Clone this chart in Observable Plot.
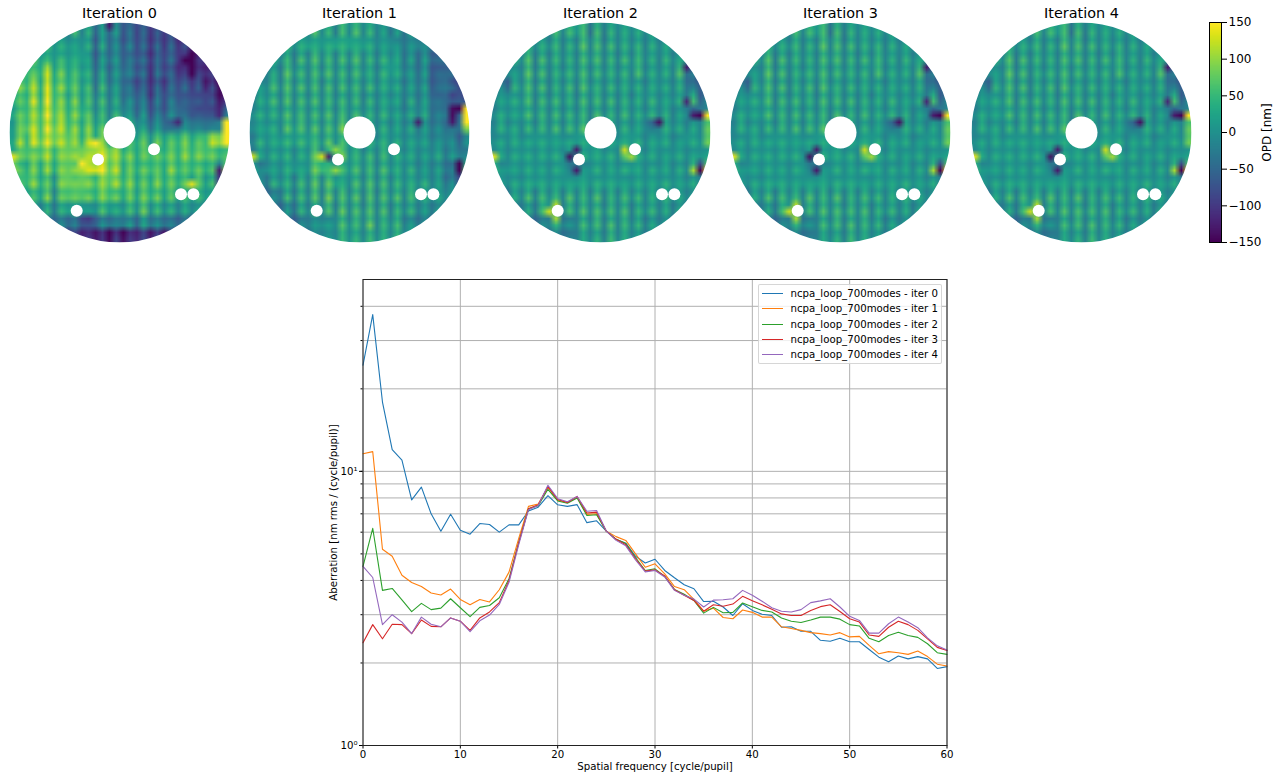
<!DOCTYPE html>
<html><head><meta charset="utf-8">
<style>
html,body{margin:0;padding:0;background:#fff;}
#page{position:relative;width:1288px;height:775px;overflow:hidden;font-family:"DejaVu Sans",sans-serif;}
#page>svg{position:absolute;}
#legend{position:absolute;left:757.5px;top:283.5px;width:184px;height:80px;box-sizing:border-box;background:rgba(255,255,255,.8);border:1px solid rgba(204,204,204,.8);border-radius:2px;font-size:10.2px;color:#000;}
#legend div{position:absolute;left:32px;white-space:nowrap;line-height:12px;}
#legend i{position:absolute;left:-29px;top:5px;width:21.6px;height:1px;display:block;}
</style>
<script src="https://cdn.jsdelivr.net/npm/d3@7"></script>
<script src="https://cdn.jsdelivr.net/npm/@observablehq/plot@0.6"></script>
</head><body><div id="page"></div>
<script>
const iterations = [0,1,2,3,4];
const diskCentres = [118.8,359.3,599.8,840.3,1080.8];
const seriesColors = ["#1f77b4","#ff7f0e","#2ca02c","#d62728","#9467bd"];

// Spectra: Aberration [nm rms / (cycle/pupil)] for spatial frequency 0..60
const iter0 = [24.4,37.3,17.9,12.0,11.0,7.87,8.76,7.0,6.05,6.97,6.1,5.9,6.45,6.4,6.0,6.38,6.38,7.17,7.4,8.15,7.55,7.45,7.56,6.5,6.6,6.05,5.65,5.47,4.9,4.63,4.78,4.35,4.09,3.86,3.73,3.35,3.36,3.2,2.98,3.29,3.11,3.01,2.98,2.7,2.71,2.61,2.61,2.42,2.4,2.46,2.39,2.39,2.24,2.1,2.02,2.12,2.07,2.11,2.07,1.91,1.94];
const iter1 = [11.6,11.8,5.2,4.9,4.18,3.93,3.8,3.6,3.54,3.72,3.41,3.26,3.41,3.34,3.7,4.29,5.7,7.45,7.6,8.75,7.85,7.7,8.05,6.97,7.0,6.05,5.78,5.6,5.0,4.47,4.6,4.23,3.8,3.7,3.41,3.09,3.17,2.93,2.9,3.12,3.06,2.94,2.94,2.71,2.67,2.63,2.58,2.56,2.53,2.58,2.49,2.5,2.32,2.16,2.2,2.18,2.15,2.21,2.11,1.98,1.95];
const iter2 = [4.5,6.2,3.68,3.74,3.4,3.08,3.3,3.13,3.17,3.43,3.18,2.95,3.19,3.24,3.46,4.06,5.5,7.3,7.5,8.6,7.8,7.65,8.0,6.9,6.95,6.05,5.65,5.45,4.85,4.35,4.41,4.14,3.71,3.56,3.38,3.04,3.19,3.05,3.06,3.31,3.21,3.11,3.07,2.92,2.84,2.81,2.87,2.94,2.94,2.89,2.76,2.73,2.46,2.39,2.52,2.59,2.52,2.48,2.35,2.18,2.15];
const iter3 = [2.37,2.76,2.45,2.77,2.76,2.56,2.87,2.72,2.71,2.92,2.84,2.63,2.92,3.07,3.32,4.0,5.5,7.3,7.55,8.8,7.9,7.7,8.1,7.05,7.1,6.05,5.65,5.4,4.8,4.33,4.37,4.15,3.7,3.53,3.38,3.09,3.26,3.22,3.28,3.5,3.37,3.26,3.14,3.02,2.98,2.98,3.11,3.21,3.26,3.08,2.9,2.82,2.53,2.5,2.7,2.84,2.76,2.63,2.45,2.28,2.22];
const iter4 = [4.5,4.1,2.76,3.0,2.82,2.56,2.94,2.77,2.71,2.92,2.84,2.6,2.85,2.99,3.27,3.94,5.4,7.25,7.5,8.9,7.95,7.75,8.1,7.15,7.2,6.05,5.6,5.35,4.75,4.3,4.35,4.12,3.68,3.53,3.42,3.2,3.39,3.4,3.43,3.68,3.53,3.36,3.18,3.09,3.07,3.13,3.32,3.37,3.43,3.2,2.96,2.86,2.57,2.57,2.78,2.94,2.82,2.69,2.47,2.31,2.23];

// OPD maps [nm], coarse readings, 16 rows of 32 columns, top row first
const opd0 = [
[0,0,0,0,0,0,0,0,0,20,0,10,-30,-10,-30,-20,-50,-60,-70,-70,-90,-90,-80,-90,-100,-100,-100,-100,-100,-100,-100,-100],
[20,20,20,20,20,20,20,10,20,0,20,10,-40,0,-30,-20,-50,-40,-60,-60,-90,-70,-80,-70,-90,-100,-110,-120,-120,-120,-120,-120],
[40,40,40,40,30,20,30,20,30,10,30,0,-40,-10,-30,-20,-40,-50,-50,-70,-90,-70,-70,-60,-80,-110,-140,-130,-90,-110,-120,-120],
[60,60,60,50,60,90,40,60,40,40,30,10,-30,10,-30,-10,-30,-40,-50,-60,-90,-60,-70,-70,-90,-120,-150,-120,-100,-120,-130,-130],
[50,60,70,90,50,110,60,70,50,50,30,30,-20,20,-20,0,-30,-60,-70,-70,-90,-70,-80,-60,-70,-70,-80,-80,-110,-110,-130,-130],
[50,50,60,100,60,120,70,70,40,60,30,40,0,30,-10,10,-20,-30,-40,-40,-80,-50,-60,-50,-50,-80,-60,-90,-70,-100,-120,-130],
[40,50,70,90,70,120,80,80,60,70,50,40,10,30,0,20,0,-10,-30,-20,-60,-40,-50,-30,-30,-70,-50,-90,-60,-100,-100,-60],
[30,60,80,100,80,110,90,100,70,70,50,70,30,50,20,30,10,30,10,0,-30,-10,-20,-70,-10,-20,-10,-40,-10,-40,0,130],
[40,80,70,110,90,110,100,90,90,80,60,90,50,70,30,30,30,40,40,50,20,50,40,50,50,60,50,50,70,90,110,150],
[50,60,80,60,80,90,70,70,100,70,110,90,130,110,100,90,60,60,50,60,70,50,60,60,60,80,60,60,80,60,60,40],
[110,40,50,70,50,70,50,70,100,60,120,100,130,130,90,90,50,60,50,50,60,50,50,70,60,50,60,50,50,40,0,60],
[40,40,70,70,50,50,20,60,100,60,100,60,70,80,90,80,60,70,40,60,50,60,50,60,50,50,40,50,30,30,-80,20],
[30,40,40,40,40,60,10,50,80,50,90,50,60,70,70,50,50,60,40,60,50,50,40,50,30,30,30,30,30,10,0,0],
[10,10,10,10,0,20,-10,10,30,10,30,-10,20,30,30,10,20,30,20,50,20,30,10,10,0,10,10,0,0,0,0,0],
[0,0,0,0,-20,-30,-30,-30,-30,-50,-60,-110,-40,-30,-20,-40,-10,-20,-30,0,-20,-30,-20,-40,-40,-40,-40,-40,-40,-40,-40,-40],
[-50,-50,-50,-50,-50,-50,-60,-70,-80,-90,-100,-120,-110,-120,-130,-110,-120,-120,-100,-100,-110,-100,-110,-100,-90,-90,-90,-90,-90,-90,-90,-90]];
const opd1 = [
[10,10,10,10,10,10,10,10,10,30,10,20,0,30,10,30,10,20,0,0,-20,-10,-20,0,-20,-20,-20,-20,-20,-20,-20,-20],
[0,0,10,10,10,10,10,10,30,10,30,10,40,10,40,10,30,10,10,0,10,-20,-10,-20,0,-30,-20,-40,-40,-40,-40,-40],
[0,0,0,0,0,20,-5,25,5,35,5,30,5,30,5,30,5,25,0,15,10,5,-20,0,-30,-10,-40,-70,-30,-60,-70,-70],
[0,0,-10,10,0,35,5,25,5,35,5,30,5,30,5,30,5,15,0,20,25,5,-10,-5,-25,-5,-50,-75,-35,-70,-90,-90],
[-20,-20,10,30,0,40,5,30,5,30,0,30,5,25,5,30,0,20,0,15,15,5,-10,0,-20,-5,-45,-60,-20,-80,-70,-70],
[-10,10,15,25,5,35,5,30,5,30,5,30,5,25,5,25,0,15,0,10,10,0,-10,5,-15,0,-30,-60,-30,-100,-50,-100],
[10,10,15,20,5,30,10,25,10,30,5,30,5,30,10,25,5,20,5,15,10,5,-5,5,-5,5,-20,-40,-20,-100,-40,-90],
[10,0,20,10,10,35,20,40,10,35,10,35,10,60,10,30,0,20,5,15,0,5,0,0,-10,-5,-20,-30,-20,-60,-20,60],
[-5,10,20,10,25,20,25,20,25,30,15,40,20,30,20,20,10,20,10,15,10,5,5,5,5,-5,-5,-15,-5,-30,-40,-20],
[0,5,10,5,15,15,10,10,15,50,10,40,50,55,20,25,5,20,5,30,10,10,10,5,5,0,0,0,-10,-10,-10,-40],
[30,-40,10,0,10,5,20,5,25,50,60,25,30,30,20,30,10,30,5,30,10,15,10,10,0,-5,-5,-5,-20,-50,-120,30],
[-20,-20,-10,10,10,15,-5,20,5,50,5,40,30,10,15,30,5,35,0,35,5,15,10,15,5,10,0,0,-20,-30,-60,-30],
[-30,-30,-30,-30,-10,20,-5,25,0,40,5,50,5,40,5,35,0,40,0,35,5,30,5,30,5,10,5,5,5,-5,-30,-30],
[-40,-40,-40,-40,-30,-10,-20,10,0,25,5,40,0,40,5,35,0,35,0,30,0,25,0,15,-5,-5,-10,-10,-10,-10,-10,-10],
[-40,-40,-40,-40,-40,-40,-40,-30,-5,-20,10,-20,10,35,10,30,5,45,5,25,5,25,-5,-10,-20,-20,-20,-20,-20,-20,-20,-20],
[-30,-30,-30,-30,-30,-30,-30,-30,-20,-10,5,-10,10,30,15,25,10,30,10,25,10,35,10,5,-10,-10,-10,-10,-10,-10,-10,-10]];
const opdLate = [
[5,5,5,5,5,5,5,5,5,20,5,25,30,30,-20,20,-5,15,5,10,5,5,5,5,5,5,5,5,5,5,5,5],
[5,5,5,5,5,5,5,10,5,25,0,15,5,35,5,35,-5,25,5,20,0,15,0,10,0,5,5,5,5,5,5,5],
[5,5,5,5,5,35,-5,25,0,20,0,20,5,30,5,25,0,25,0,20,0,25,0,15,0,15,0,5,5,5,5,5],
[5,5,5,-5,10,35,-5,30,0,20,5,15,5,35,5,25,0,20,5,20,5,30,0,15,5,15,0,35,-30,-50,-60,-60],
[-40,-40,-30,15,5,35,0,25,-5,15,5,25,0,30,5,20,0,15,0,15,5,10,0,10,5,5,0,20,-20,-50,-50,-50],
[0,0,15,5,15,30,0,25,0,20,5,20,0,30,5,25,5,20,0,20,0,10,5,15,5,5,5,15,-10,25,-40,-40],
[5,5,15,5,15,25,5,20,5,25,0,15,5,25,0,25,0,20,5,20,5,15,5,15,0,10,0,0,0,-60,-10,-20],
[5,15,10,5,10,15,5,25,5,25,5,25,10,40,-5,25,5,20,5,15,5,5,5,-60,5,15,5,5,5,5,5,50],
[10,-5,15,10,15,0,25,0,20,0,20,-5,30,5,25,5,25,5,20,5,25,5,5,5,15,5,5,-5,20,5,15,60],
[20,5,10,0,20,5,20,5,15,5,20,10,15,5,25,10,15,5,15,45,20,5,10,5,15,0,10,0,10,0,20,-5],
[60,-20,20,0,15,0,20,5,15,0,25,-50,10,-20,15,5,15,5,15,5,25,5,10,0,15,5,5,5,5,30,-60,60],
[0,-10,15,0,15,5,25,0,15,5,25,-10,25,5,20,5,25,5,20,0,20,0,15,5,15,5,15,0,10,5,0,5],
[-10,-20,-10,10,5,25,0,25,5,20,5,30,5,25,0,30,0,20,5,25,5,15,5,15,5,15,5,5,5,-5,-10,-10],
[-30,-30,-30,-30,-5,10,-10,20,30,20,0,30,5,30,5,30,0,25,5,25,0,20,5,15,0,10,-5,5,-5,-5,-5,-5],
[-40,-40,-40,-40,-40,-30,-30,-30,0,10,-5,-30,0,25,5,30,-5,25,5,25,0,15,-5,5,-5,-5,-5,-5,-5,-5,-5,-5],
[-30,-30,-30,-30,-30,-30,-30,-30,-20,-10,-20,-40,0,15,5,20,0,30,5,20,5,10,-5,-5,-5,-5,-5,-5,-5,-5,-5,-5]];
const opdMaps = [opd0,opd1,opdLate,opdLate,opdLate];

// Actuator print-through seen in every map [nm], 32 rows of 32 columns
const printThrough = [
[-10,10,-10,10,-10,10,-10,10,-10,20,-15,15,-20,25,-15,20,-20,15,-15,15,-10,10,-15,15,-10,10,-10,10,-10,10,-10,10],
[-15,30,-15,30,-20,35,-15,30,-25,40,-20,35,-25,30,-20,40,-25,35,-20,30,-15,35,-20,25,-20,30,-15,25,-15,25,-15,25],
[-20,5,-20,10,-30,5,-25,10,-30,10,-25,5,-30,15,-25,10,-30,5,-25,10,-20,5,-25,10,-25,5,-20,10,-20,5,-20,5],
[-10,35,-15,35,-15,40,-15,35,-10,30,-20,35,-15,40,-20,30,-15,35,-20,30,-10,35,-20,35,-15,30,-10,30,-15,30,-10,25],
[-25,0,-20,15,-25,10,-25,5,-30,15,-20,10,-30,10,-25,15,-25,5,-30,10,-25,15,-20,5,-20,10,-25,5,-20,10,-20,5],
[-5,30,-15,40,-10,35,-20,40,-15,35,-15,30,-20,35,-10,40,-20,30,-15,40,-10,30,-15,30,-20,35,-10,30,-10,25,-10,30],
[-30,10,-25,5,-30,15,-25,5,-25,10,-30,15,-25,5,-30,10,-25,15,-30,5,-20,15,-25,5,-25,10,-20,10,-25,5,-20,10],
[-15,35,-10,30,-20,40,-10,35,-20,30,-10,40,-15,30,-15,35,-10,30,-15,35,-20,35,-10,30,-15,30,-15,35,-10,30,-15,25],
[-25,5,-30,10,-25,10,-30,5,-25,15,-30,5,-25,15,-30,5,-25,10,-25,15,-25,5,-30,10,-20,5,-25,10,-25,5,-25,10],
[-10,40,-15,35,-10,30,-15,40,-15,35,-15,35,-20,40,-10,30,-15,40,-10,30,-15,35,-15,30,-10,35,-15,25,-10,35,-10,30],
[-25,10,-25,5,-30,15,-25,5,-30,10,-25,15,-30,5,-25,15,-30,5,-25,10,-30,15,-20,5,-25,10,-25,5,-20,10,-25,5],
[-15,30,-10,40,-15,35,-20,35,-10,40,-15,30,-15,35,-15,35,-20,40,-15,30,-10,35,-20,40,-15,30,-10,30,-15,35,-10,30],
[-30,5,-25,10,-25,5,-25,15,-30,5,-25,10,-30,15,-25,5,-25,10,-30,15,-25,5,-30,10,-20,15,-25,5,-25,10,-20,5],
[-10,35,-15,30,-10,40,-15,35,-20,35,-10,40,-15,30,-20,40,-10,30,-20,40,-15,30,-10,35,-15,35,-20,30,-10,30,-15,35],
[-25,15,-30,5,-25,10,-30,15,-25,5,-30,10,-25,5,-25,15,-30,10,-25,5,-25,15,-30,5,-25,10,-25,10,-30,5,-20,10],
[-15,30,-10,35,-20,40,-10,30,-15,40,-15,35,-10,35,-15,30,-15,40,-15,35,-10,30,-15,40,-20,30,-10,35,-15,30,-15,30],
[-25,5,-25,15,-30,5,-25,10,-25,15,-30,5,-25,15,-30,10,-25,5,-30,15,-20,10,-25,5,-25,15,-30,5,-20,10,-25,10],
[-10,40,-20,30,-10,35,-15,40,-15,30,-10,40,-20,35,-10,35,-15,30,-10,35,-15,40,-15,30,-10,35,-15,30,-15,35,-10,25],
[-30,10,-25,10,-25,5,-30,15,-25,10,-30,5,-25,10,-25,15,-30,5,-25,15,-25,5,-30,15,-25,5,-20,15,-25,5,-25,10],
[-15,30,-15,40,-10,35,-20,35,-10,40,-15,30,-15,40,-15,30,-10,40,-20,30,-15,35,-10,35,-20,30,-10,40,-15,30,-10,30],
[-25,5,-30,10,-25,15,-25,5,-30,10,-25,15,-30,5,-25,10,-25,15,-30,5,-25,10,-25,5,-30,15,-25,5,-25,10,-20,5],
[-10,35,-10,30,-15,40,-15,30,-20,40,-10,35,-15,35,-10,40,-20,30,-15,40,-10,30,-20,40,-15,30,-15,35,-10,30,-15,35],
[-25,15,-25,5,-30,10,-30,15,-25,5,-25,10,-30,15,-25,5,-30,10,-25,5,-30,15,-25,10,-25,5,-25,15,-30,5,-25,10],
[-15,30,-20,40,-10,35,-10,40,-15,30,-15,40,-10,30,-20,40,-15,35,-10,30,-15,40,-15,30,-10,40,-15,30,-10,35,-15,30],
[-30,5,-25,10,-25,5,-30,10,-25,15,-30,5,-25,15,-25,5,-25,15,-30,10,-25,5,-25,15,-30,5,-25,10,-25,5,-20,10],
[-10,40,-15,30,-15,40,-15,35,-10,35,-20,40,-15,30,-10,40,-20,30,-15,35,-10,40,-20,30,-15,35,-10,30,-15,30,-10,35],
[-25,10,-30,15,-25,5,-25,15,-30,5,-25,10,-30,10,-25,5,-30,15,-25,10,-30,5,-25,10,-25,15,-25,5,-20,10,-25,5],
[-15,30,-10,35,-20,30,-15,40,-10,40,-15,30,-15,40,-15,35,-10,35,-15,40,-20,30,-10,40,-15,30,-15,35,-10,30,-15,25],
[-25,5,-25,10,-30,10,-25,5,-25,15,-30,10,-25,5,-30,15,-25,5,-25,15,-25,10,-30,5,-25,10,-25,10,-25,5,-25,10],
[-10,25,-15,30,-10,35,-20,30,-15,35,-10,40,-15,35,-10,30,-15,40,-20,30,-10,35,-15,30,-10,30,-15,25,-10,25,-10,25],
[-20,5,-20,5,-25,10,-25,10,-25,5,-25,10,-25,15,-25,5,-30,10,-25,15,-25,5,-25,10,-20,5,-20,5,-20,5,-20,5],
[-10,15,-10,15,-15,20,-15,20,-15,25,-15,25,-20,20,-15,25,-20,25,-15,20,-15,25,-15,15,-10,15,-10,15,-10,15,-10,15]];

// Local features: [x, y, OPD]
const spots0 = [[56,-12,-120],[108,-9,150],[-105,27,140],[99,38,-130],[-22,13,150],[-35,28,150],[-22,40,130],[73,53,140],[-10.5,-108.5,-130],[63,-70,-150]];
const spots1 = [[108,-22,150],[108,-15,150],[108,-8,150],[92,-22,-140],[92,-14,-140],[93,-8,-130],[103,-25,-150],[99,32,-150],[99,38,-150],[56,-12,-130],[-36,27,130],[-23,15,100],[-28,27,-130],[-105,27,130],[-22,40,100]];
const spotsLate = [[107,-15,150],[100,-15,-150],[94,-15,130],[99,36,-150],[105,35,150],[55,-12,-140],[-29,27,-140],[-22,35,-130],[-23,20,-130],[26,16,130],[34,23,110],[-45,71,120],[-51,78,130],[-44,85,110],[92,35,110],[89,-32,-120],[91,-19,-130],[98,-59,-120],[89,-65,-130],[-106,26,140]];
const spotLists = [spots0,spots1,spotsLate,spotsLate,spotsLate];

// Pupil obstructions: [x, y, radius]
const holes = [[0,0,16],[-21.5,27,6],[34.5,16.7,6],[61.5,61.7,6],[73.9,61.7,6],[-42.8,78.3,6]];
const pupilRadius = 110;
const viridisDomain = [-150,150];
const colorbarTicks = [-150,-100,-50,0,50,100,150];
const xTicks = [0,10,20,30,40,50,60];
const yMajor = [1,10];
const yAll = [1,2,3,4,5,6,7,8,9,10,20,30,40];
const fontFamily = '"DejaVu Sans",sans-serif';
const page = document.getElementById("page");
const place = (svg,left,top)=>{svg.style.left=left+"px";svg.style.top=top+"px";page.appendChild(svg);};
const colorScale = {type:"linear",scheme:"viridis",domain:viridisDomain,clamp:true};
const cellSize = 2*pupilRadius/32;
const composeMap = i=>{
  const grid = printThrough.map((row,r)=>row.map((p,c)=>opdMaps[i][r>>1][c]+p));
  spotLists[i].forEach(([x,y,v])=>{
    grid[Math.floor((y+pupilRadius)/cellSize)][Math.floor((x+pupilRadius)/cellSize)] = v;
  });
  return grid.flat();
};

iterations.forEach(i=>{
  const svg = Plot.plot({
    width:230,height:245,marginLeft:5,marginRight:5,marginTop:22,marginBottom:3,
    style:{overflow:"hidden",background:"#fff",fontFamily},
    x:{domain:[-pupilRadius,pupilRadius],axis:null},
    y:{domain:[-pupilRadius,pupilRadius],reverse:true,axis:null},
    r:{type:"identity"},
    color:colorScale,
    marks:[
      Plot.raster(composeMap(i),{width:32,height:32,x1:-pupilRadius,x2:pupilRadius,y1:-pupilRadius,y2:pupilRadius,fill:d=>d}),
      Plot.dot([[0,0]],{x:d=>d[0],y:d=>d[1],r:()=>pupilRadius+35,fill:"none",stroke:"#fff",strokeWidth:70}),
      Plot.dot(holes,{x:d=>d[0],y:d=>d[1],r:d=>d[2],fill:"#fff"}),
      Plot.text([`Iteration ${i}`],{frameAnchor:"top",dy:-15,fontSize:14.4,fill:"#000",lineAnchor:"top"})
    ]
  });
  place(svg,diskCentres[i]-115,0);
});

// Colorbar
const cb = Plot.plot({
  width:108,height:260,marginLeft:29,marginRight:67,marginTop:22,marginBottom:18,
  style:{background:"transparent",fontFamily,fontSize:"12.5px",color:"#000"},
  x:{domain:[0,1],axis:null},
  y:{domain:viridisDomain},
  color:colorScale,
  marks:[
    Plot.raster(d3.range(-150,151),{width:1,height:301,x1:0,x2:1,y1:-150,y2:150,fill:d=>d}),
    Plot.frame({stroke:"#000"}),
    Plot.axisY({anchor:"right",ticks:colorbarTicks,tickSize:5,tickPadding:2,
      tickFormat:d=>d<0?`\u2212${-d}`:`${d}`,label:"OPD [nm]",labelAnchor:"center",labelArrow:"none",labelOffset:49,fontSize:12})
  ]
});
place(cb,1180,0);

// Spectrum
const rows = [iter0,iter1,iter2,iter3,iter4].flatMap((vals,k)=>vals.map((v,f)=>({f,v,k})));
const main = Plot.plot({
  width:670,height:505,marginLeft:62.5,marginRight:23.5,marginTop:9,marginBottom:30,
  style:{background:"transparent",fontFamily,fontSize:"10.2px",color:"#000"},
  x:{domain:[0,60]},
  y:{type:"log",domain:[1,50.1]},
  marks:[
    Plot.gridX({ticks:xTicks,stroke:"#b0b0b0",strokeOpacity:1,strokeWidth:1}),
    Plot.gridY({ticks:yAll,stroke:"#b0b0b0",strokeOpacity:1,strokeWidth:1}),
    ...iterations.map(k=>Plot.line(rows.filter(r=>r.k===k),{x:"f",y:"v",stroke:seriesColors[k],strokeWidth:1.1})),
    Plot.axisX({ticks:xTicks,tickSize:3.5,tickPadding:2,label:"Spatial frequency [cycle/pupil]",labelAnchor:"center",labelArrow:"none",labelOffset:24}),
    Plot.axisY({ticks:yAll,tickSize:2,tickFormat:()=>"" ,label:null}),
    Plot.axisY({ticks:yMajor,tickSize:3.5,tickPadding:2,tickFormat:d=>d===1?"10\u2070":"10\u00b9",label:"Aberration [nm rms / (cycle/pupil)]",labelAnchor:"center",labelArrow:"none",labelOffset:33}),
    Plot.frame({stroke:"#222"})
  ]
});
place(main,300,270);

// Legend
const legend = document.createElement("div");
legend.id = "legend";
const legendTops = [3,18,34,49,64];
iterations.forEach(k=>{
  const row = document.createElement("div");
  row.style.top = legendTops[k]+"px";
  const sw = document.createElement("i");
  sw.style.background = seriesColors[k];
  row.appendChild(sw);
  row.appendChild(document.createTextNode(`ncpa_loop_700modes - iter ${k}`));
  legend.appendChild(row);
});
page.appendChild(legend);
</script></body></html>
